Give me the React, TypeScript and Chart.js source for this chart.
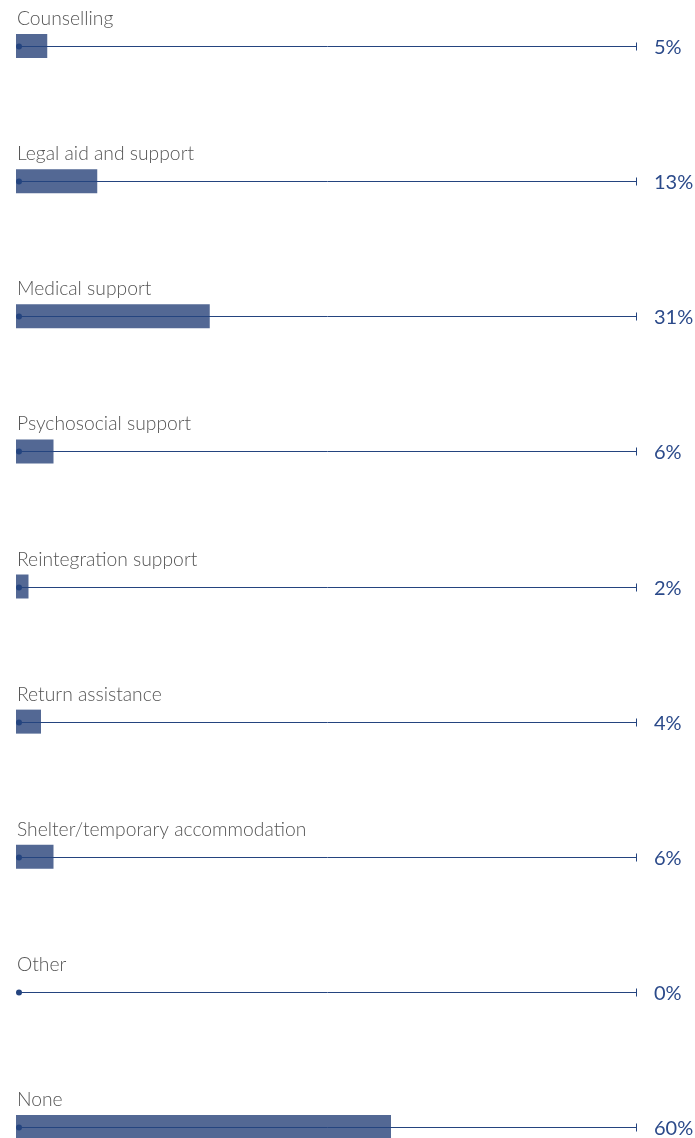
import React, { useEffect, useRef } from "react";
import { Chart, registerables } from "chart.js";

Chart.register(...registerables);

const categories = [
  "Counselling",
  "Legal aid and support",
  "Medical support",
  "Psychosocial support",
  "Reintegration support",
  "Return assistance",
  "Shelter/temporary accommodation",
  "Other",
  "None",
];
const values = [5, 13, 31, 6, 2, 4, 6, 0, 60];
const valueLabels = ["5%", "13%", "31%", "6%", "2%", "4%", "6%", "0%", "60%"];

const BAR_COLOR = "#536894";
const LINE_COLOR = "#24447f";
const VALUE_COLOR = "#2b4a8a";
const LABEL_COLOR = "#555555";

const decorPlugin = {
  id: "decor",
  afterDatasetsDraw(chart: any) {
    const ctx = chart.ctx;
    const y = chart.scales.y;
    const x = chart.scales.x;
    const lineStart = x.getPixelForValue(0) + 3;
    const lineEnd = x.getPixelForValue(99.2);
    ctx.save();
    categories.forEach((cat, i) => {
      const py = Math.round(y.getPixelForValue(i)) + 0.5;
      ctx.strokeStyle = LINE_COLOR;
      ctx.lineWidth = 1;
      ctx.beginPath();
      ctx.moveTo(lineStart, py);
      ctx.lineTo(lineEnd, py);
      ctx.stroke();
      ctx.beginPath();
      ctx.moveTo(Math.round(lineEnd) + 0.5, py - 4);
      ctx.lineTo(Math.round(lineEnd) + 0.5, py + 4);
      ctx.stroke();
      ctx.fillStyle = LINE_COLOR;
      ctx.beginPath();
      ctx.arc(lineStart, py, 3, 0, Math.PI * 2);
      ctx.fill();
      ctx.fillStyle = LABEL_COLOR;
      ctx.font = "300 19.3px Lato";
      ctx.textAlign = "left";
      ctx.textBaseline = "middle";
      ctx.fillText(cat, x.getPixelForValue(0) + 1, py - 28);
      ctx.fillStyle = VALUE_COLOR;
      ctx.font = "400 20px Lato";
      ctx.fillText(valueLabels[i], 654, py + 1);
    });
    ctx.restore();
  },
};

export default function App() {
  const ref = useRef<HTMLCanvasElement>(null);
  useEffect(() => {
    if (!ref.current) return;
    const chart = new Chart(ref.current, {
      type: "bar",
      data: {
        labels: categories,
        datasets: [
          {
            data: values,
            backgroundColor: BAR_COLOR,
            barThickness: 24,
            clip: false as any,
            borderWidth: 0,
            inflateAmount: 0,
          } as any,
        ],
      },
      options: {
        indexAxis: "y",
        animation: false,
        responsive: false,
        maintainAspectRatio: false,
        layout: { padding: { left: 16, right: 54, top: 46, bottom: 11 } },
        plugins: { legend: { display: false }, tooltip: { enabled: false } },
        scales: {
          x: { min: 0, max: 100, display: false },
          y: { display: false, offset: false },
        },
      },
      plugins: [decorPlugin],
    });
    return () => chart.destroy();
  }, []);
  return (
    <div style={{ position: "fixed", left: 0, top: 0, width: 695, height: 1138 }}>
      <canvas ref={ref} width={695} height={1138} style={{ width: 695, height: 1138 }} />
    </div>
  );
}
